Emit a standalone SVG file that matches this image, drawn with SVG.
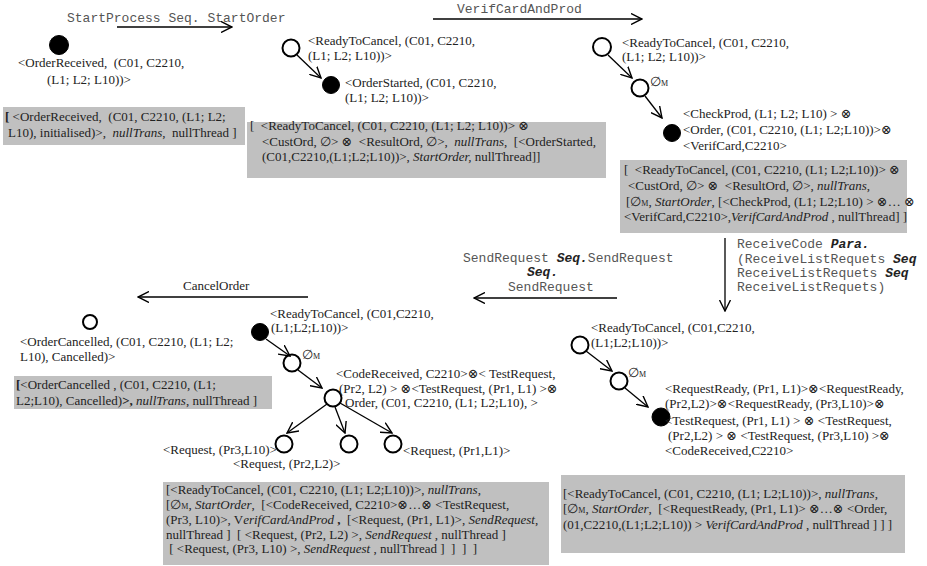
<svg xmlns="http://www.w3.org/2000/svg" width="927" height="566" viewBox="0 0 927 566">
<style>
  text{font-family:"Liberation Serif","Times New Roman","DejaVu Serif",serif;font-size:13px;fill:#222;white-space:pre}
  .m{font-family:"Liberation Mono","Courier New",monospace;font-size:13px;fill:#555}
  .mb{font-weight:bold;font-style:italic;fill:#222}
  .i{font-style:italic}
  .b{font-weight:bold}
  .sub{font-size:8px}
  .box{fill:#c0c0c0}
  .open{fill:#fff;stroke:#000;stroke-width:2}
  .full{fill:#000;stroke:#000;stroke-width:1}
  #connectors line{stroke:#000;stroke-width:1.3;marker-end:url(#arr)}
</style>
<defs>
  <marker id="arr" viewBox="0 0 12 12" refX="11" refY="6" markerWidth="12" markerHeight="12" markerUnits="userSpaceOnUse" orient="auto">
    <path d="M0,0.5 L11,6 L0,11.5" fill="none" stroke="#000" stroke-width="1.4"/>
  </marker>
</defs>

<!-- transition labels -->
<g id="labels">
  <text class="m" x="67" y="22">StartProcess Seq. StartOrder</text>
  <text class="m" x="457" y="13">VerifCardAndProd</text>
  <text class="m" x="737" y="248">ReceiveCode <tspan class="mb">Para.</tspan></text>
  <text class="m" x="737" y="263">(ReceiveListRequets <tspan class="mb">Seq</tspan></text>
  <text class="m" x="737" y="277">ReceiveListRequets <tspan class="mb">Seq</tspan></text>
  <text class="m" x="737" y="291">ReceiveListRequets)</text>
  <text class="m" x="463" y="262">SendRequest <tspan class="mb">Seq.</tspan>SendRequest</text>
  <text class="m" x="527" y="276"><tspan class="mb">Seq.</tspan></text>
  <text class="m" x="508" y="291">SendRequest</text>
  <text x="183" y="290">CancelOrder</text>
</g>

<!-- state 1: order received -->
<g id="s1">
  <circle class="full" cx="59" cy="45" r="9.5"/>
  <text x="18" y="67">&lt;OrderReceived,  (C01, C2210,</text>
  <text x="47" y="84">(L1; L2; L10))&gt;</text>
  <rect class="box" x="3" y="107" width="242" height="38"/>
  <text x="5" y="121"><tspan class="b">[</tspan> &lt;OrderReceived,  (C01, C2210, (L1; L2;</text>
  <text x="8" y="137">L10), initialised)&gt;,  <tspan class="i">nullTrans</tspan>,  nullThread ]</text>
</g>

<!-- state 2: order started -->
<g id="s2">
  <circle class="open" cx="291" cy="48" r="8.5"/>
  <circle class="full" cx="331" cy="85" r="8.5"/>
  <text x="308" y="45">&lt;ReadyToCancel, (C01, C2210,</text>
  <text x="308" y="60">(L1; L2; L10))&gt;</text>
  <text x="345" y="87">&lt;OrderStarted, (C01, C2210,</text>
  <text x="345" y="102">(L1; L2; L10))&gt;</text>
  <rect class="box" x="247" y="122" width="359" height="56"/>
  <text x="250" y="130">[  &lt;ReadyToCancel, (C01, C2210, (L1; L2; L10))&gt; ⊗</text>
  <text x="262" y="146">&lt;CustOrd, ∅&gt; ⊗  &lt;ResultOrd, ∅&gt;,  <tspan class="i">nullTrans</tspan>,  [&lt;OrderStarted,</text>
  <text x="262" y="161">(C01,C2210,(L1;L2;L10))&gt;, <tspan class="i">StartOrder,</tspan> nullThread]]</text>
</g>

<!-- state 3: card and product verified -->
<g id="s3">
  <circle class="open" cx="602" cy="47" r="9"/>
  <circle class="open" cx="640" cy="88" r="8.5"/>
  <circle class="full" cx="672" cy="133" r="8.5"/>
  <text x="622" y="47">&lt;ReadyToCancel, (C01, C2210,</text>
  <text x="622" y="61">(L1; L2; L10))&gt;</text>
  <text x="650" y="86">∅<tspan class="sub">M</tspan></text>
  <text x="683" y="118">&lt;CheckProd, (L1; L2; L10) &gt; ⊗</text>
  <text x="683" y="134">&lt;Order, (C01, C2210, (L1; L2;L10))&gt;⊗</text>
  <text x="683" y="150">&lt;VerifCard,C2210&gt;</text>
  <rect class="box" x="620" y="160" width="287" height="73"/>
  <text x="624" y="174">[  &lt;ReadyToCancel, (C01, C2210, (L1; L2;L10))&gt; ⊗</text>
  <text x="628" y="190">&lt;CustOrd, ∅&gt; ⊗  &lt;ResultOrd, ∅&gt;, <tspan class="i">nullTrans</tspan>,</text>
  <text x="626" y="206">[∅<tspan class="sub">M</tspan>, <tspan class="i">StartOrder</tspan>, [&lt;CheckProd, (L1; L2;L10) &gt; ⊗… ⊗</text>
  <text x="624" y="221">&lt;VerifCard,C2210&gt;,<tspan class="i">VerifCardAndProd</tspan> , nullThread] ]</text>
</g>

<!-- state 4: requests ready -->
<g id="s4">
  <circle class="open" cx="580" cy="345" r="8.5"/>
  <circle class="open" cx="619" cy="381" r="8.5"/>
  <circle class="full" cx="661" cy="417" r="9"/>
  <text x="591" y="332">&lt;ReadyToCancel, (C01,C2210,</text>
  <text x="591" y="347">(L1;L2;L10))&gt;</text>
  <text x="628" y="377">∅<tspan class="sub">M</tspan></text>
  <text x="665" y="393">&lt;RequestReady, (Pr1, L1)&gt;⊗&lt;RequestReady,</text>
  <text x="665" y="408">(Pr2,L2)&gt;⊗&lt;RequestReady, (Pr3,L10)&gt;⊗</text>
  <text x="665" y="425">&lt;TestRequest, (Pr1, L1) &gt; ⊗ &lt;TestRequest,</text>
  <text x="668" y="440">(Pr2,L2) &gt; ⊗ &lt;TestRequest, (Pr3,L10) &gt;⊗</text>
  <text x="665" y="455">&lt;CodeReceived,C2210&gt;</text>
  <rect class="box" x="561" y="475" width="344" height="78"/>
  <text x="563" y="498">[&lt;ReadyToCancel, (C01, C2210, (L1; L2;L10))&gt;, <tspan class="i">nullTrans</tspan>,</text>
  <text x="563" y="513">[∅<tspan class="sub">M</tspan>, <tspan class="i">StartOrder</tspan>,  [&lt;RequestReady, (Pr1, L1)&gt; ⊗…⊗ &lt;Order,</text>
  <text x="563" y="529">(01,C2210,(L1;L2;L10)) &gt; <tspan class="i">VerifCardAndProd</tspan> , nullThread ] ] ]</text>
</g>

<!-- state 5: requests sent -->
<g id="s5">
  <circle class="full" cx="260" cy="332" r="8.5"/>
  <circle class="open" cx="292" cy="363" r="8.5"/>
  <circle class="open" cx="333" cy="398" r="8.5"/>
  <circle class="open" cx="284" cy="444" r="8.5"/>
  <circle class="open" cx="349" cy="444" r="8.5"/>
  <circle class="open" cx="393" cy="444" r="8.5"/>
  <text x="270" y="318">&lt;ReadyToCancel, (C01,C2210,</text>
  <text x="271" y="332">(L1;L2;L10))&gt;</text>
  <text x="302" y="359">∅<tspan class="sub">M</tspan></text>
  <text x="336" y="378">&lt;CodeReceived, C2210&gt;⊗&lt; TestRequest,</text>
  <text x="339" y="393">(Pr2, L2) &gt; ⊗&lt;TestRequest, (Pr1, L1) &gt;⊗</text>
  <text x="345" y="407">Order, (C01, C2210, (L1; L2;L10), &gt;</text>
  <text x="163" y="454">&lt;Request, (Pr3,L10)&gt;</text>
  <text x="233" y="468">&lt;Request, (Pr2,L2)&gt;</text>
  <text x="403" y="455">&lt;Request, (Pr1,L1)&gt;</text>
  <rect class="box" x="163" y="482" width="386" height="83"/>
  <text x="166" y="494">[&lt;ReadyToCancel, (C01, C2210, (L1; L2;L10))&gt;, <tspan class="i">nullTrans</tspan>,</text>
  <text x="166" y="509">[∅<tspan class="sub">M</tspan>, <tspan class="i">StartOrder</tspan>,  [&lt;CodeReceived, C2210&gt;⊗…⊗ &lt;TestRequest,</text>
  <text x="166" y="524">(Pr3, L10)&gt;, V<tspan class="i">erifCardAndProd</tspan><tspan class="b"> ,</tspan>  [&lt;Request, (Pr1, L1)&gt;, <tspan class="i">SendRequest</tspan>,</text>
  <text x="166" y="539">nullThread ]  [ &lt;Request, (Pr2, L2) &gt;, <tspan class="i">SendRequest</tspan> , nullThread ]</text>
  <text x="166" y="553"> [ &lt;Request, (Pr3, L10) &gt;, <tspan class="i">SendRequest</tspan> , nullThread ]  ]  ]  ]</text>
</g>

<!-- state 6: order cancelled -->
<g id="s6">
  <circle class="open" cx="90" cy="322" r="7"/>
  <text x="20" y="346">&lt;OrderCancelled, (C01, C2210, (L1; L2;</text>
  <text x="20" y="361">L10), Cancelled)&gt;</text>
  <rect class="box" x="14" y="376" width="258" height="33"/>
  <text x="16" y="389"><tspan class="b">[</tspan>&lt;OrderCancelled , (C01, C2210, (L1;</text>
  <text x="16" y="405">L2;L10), Cancelled)<tspan class="b">&gt;,</tspan> <tspan class="i">nullTrans</tspan>, nullThread ]</text>
</g>

<g id="connectors">
  <line x1="117" y1="27" x2="232" y2="27"/>
  <line x1="433" y1="19" x2="642" y2="19"/>
  <line x1="725" y1="238" x2="725" y2="311"/>
  <line x1="617" y1="298" x2="474" y2="298"/>
  <line x1="308" y1="297" x2="138" y2="297"/>
  <line x1="297" y1="55" x2="321" y2="78"/>
  <line x1="608" y1="55" x2="632" y2="78"/>
  <line x1="645" y1="96" x2="662" y2="118"/>
  <line x1="266" y1="339" x2="290" y2="356"/>
  <line x1="298" y1="370" x2="322" y2="388"/>
  <line x1="327" y1="404" x2="287" y2="433"/>
  <line x1="335" y1="407" x2="345" y2="433"/>
  <line x1="340" y1="403" x2="392" y2="433"/>
  <line x1="586" y1="351" x2="612" y2="371"/>
  <line x1="625" y1="388" x2="648" y2="407"/>
</g>
</svg>
